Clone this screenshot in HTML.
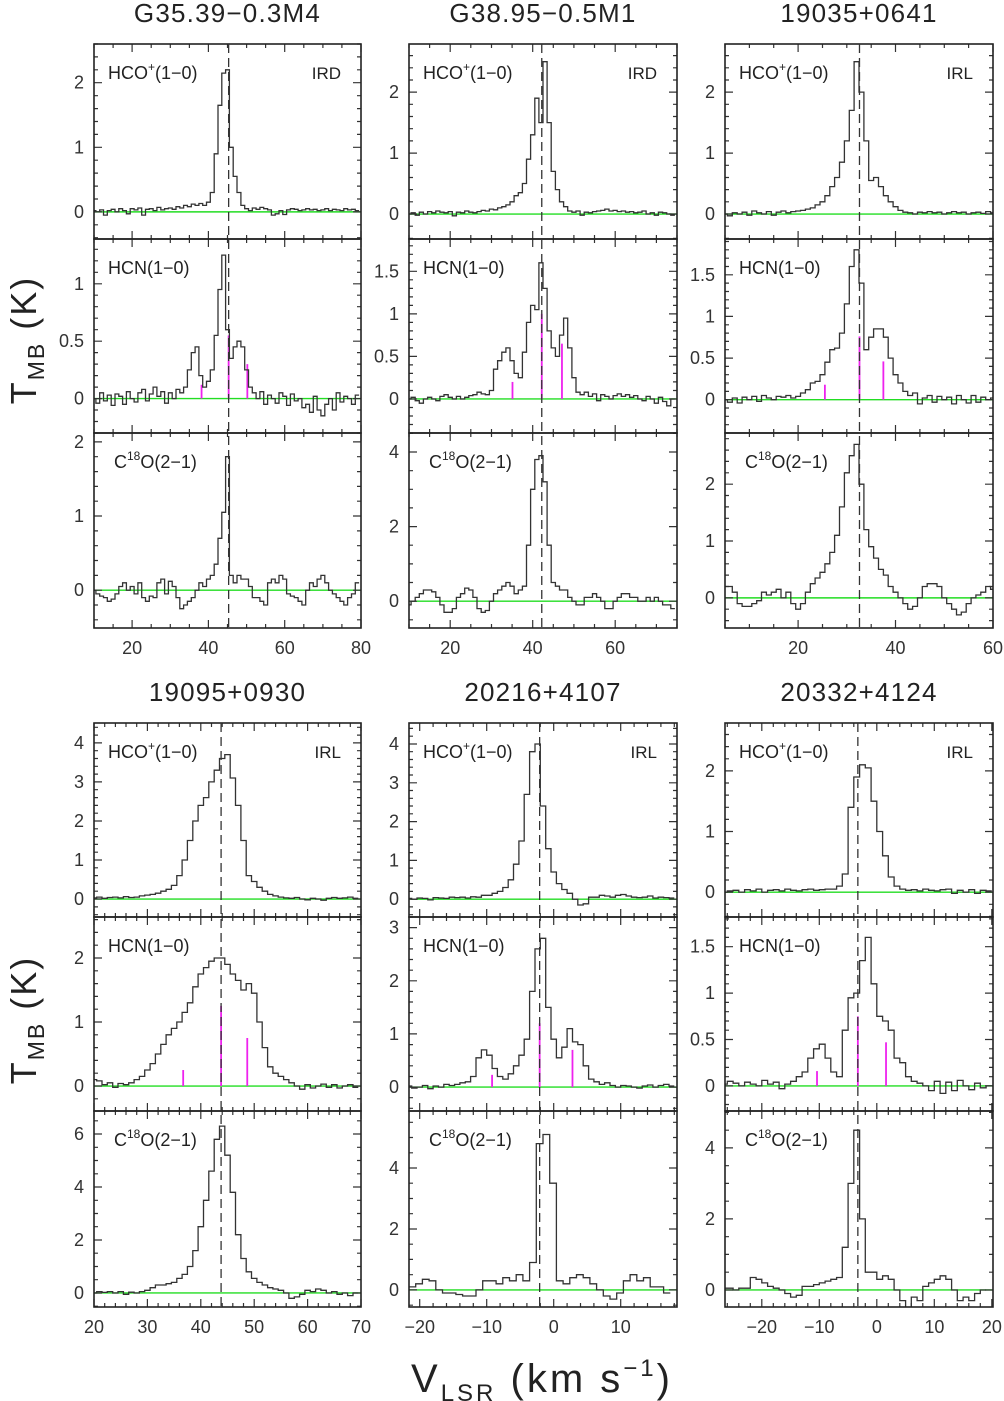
<!DOCTYPE html>
<html><head><meta charset="utf-8"><style>
html,body{margin:0;padding:0;background:#fff;}
svg{display:block;font-family:"Liberation Sans",sans-serif;}
</style></head><body>
<svg id="fig" width="1004" height="1401" viewBox="0 0 1004 1401" xmlns="http://www.w3.org/2000/svg">
<text transform="translate(36,340) rotate(-90)" text-anchor="middle" font-size="36" letter-spacing="2" fill="#222">T<tspan font-size="23" dy="8">MB</tspan><tspan dy="-8"> (K)</tspan></text>
<text transform="translate(36,1020) rotate(-90)" text-anchor="middle" font-size="36" letter-spacing="2" fill="#222">T<tspan font-size="23" dy="8">MB</tspan><tspan dy="-8"> (K)</tspan></text>
<text x="542" y="1392" text-anchor="middle" font-size="40" letter-spacing="3" fill="#222">V<tspan font-size="24" dy="9">LSR</tspan><tspan dy="-9">  (km  s</tspan><tspan font-size="24" dy="-16">−1</tspan><tspan dy="16">)</tspan></text>
</svg>
<script>
// ---- data ----
const sourceNames = ["G35.39−0.3M4","G38.95−0.5M1","19035+0641","19095+0930","20216+4107","20332+4124"];
const sourceTypes = ["IRD","IRD","IRL","IRL","IRL","IRL"];
const vsys = [45.3, 42.2, 32.6, 43.8, -2.1, -3.3];
const hfOffsets = [-7.1, 0, 4.9];
const hfHeights = [[0.12,0.55,0.3],[0.2,1.0,0.65],[0.18,0.76,0.46],[0.25,1.25,0.75],[0.23,1.2,0.7],[0.16,0.75,0.47]];
const hcoSpectra = [
 [0.02,0.0,0.03,-0.05,0.02,0.04,0.0,0.05,0.02,-0.03,0.05,0.03,0.06,-0.05,0.04,0.05,0.02,0.07,0.03,0.05,0.06,0.04,0.08,0.06,0.1,0.08,0.12,0.1,0.13,0.1,0.15,
  0.3,0.9,1.65,2.15,2.2,1.0,0.55,0.3,0.1,0.05,0.02,0.06,0.04,0.07,0.05,0.03,-0.05,-0.03,0.02,-0.04,0.03,0.05,0.04,0.02,0.03,0.05,0.03,0.04,0.02,0.03,0.05,0.02,0.04,0.03,0.02,0.05,0.03,0.04,0.02],
 [0.0,0.02,-0.02,0.03,0.0,0.04,0.02,0.05,0.03,0.02,0.04,-0.03,0.03,0.02,0.05,0.03,0.02,0.04,0.06,0.05,0.08,0.07,0.1,0.12,0.15,0.2,0.3,
  0.35,0.5,0.9,1.3,1.9,1.5,2.5,1.5,0.7,0.4,0.2,0.12,0.05,
  0.03,0.05,-0.02,0.03,0.02,0.04,0.05,0.06,0.08,0.05,0.06,0.04,0.05,0.03,0.04,0.02,0.03,0.05,0.0,0.02,-0.02,0.03,0.02,0.0,-0.02],
 [0.0,-0.03,0.02,0.0,0.03,-0.02,0.05,0.02,0.0,0.04,-0.02,0.03,0.05,0.02,0.04,0.05,0.06,
  0.08,0.1,0.15,0.2,0.3,0.45,0.6,0.85,1.2,1.7,2.5,2.0,1.2,0.55,0.6,0.45,0.3,0.2,0.12,0.06,
  0.03,0.02,0.0,0.03,0.02,0.04,0.02,0.03,0.0,0.02,0.04,0.02,0.03,0.0,0.02,0.03,0.01,0.04,0.02],
 [0.03,0.05,0.02,0.04,0.05,0.03,0.06,0.04,0.05,0.08,
  0.1,0.12,0.15,0.2,0.25,0.35,0.6,1.0,1.5,2.0,2.4,2.6,3.0,3.3,3.6,3.7,3.1,2.4,1.5,0.6,0.45,0.3,0.2,0.12,0.08,0.05,
  0.03,0.02,0.04,0.0,-0.02,0.02,0.0,-0.03,0.02,0.04,0.02,0.03,0.05,0.02],
 [0.02,0.0,0.03,0.02,-0.02,0.04,0.03,0.02,0.05,0.04,0.05,0.03,0.06,0.05,
  0.1,0.1,0.15,0.2,0.3,0.5,0.9,1.5,2.7,3.8,4.0,2.4,1.3,0.7,0.4,0.25,0.15,0.0,-0.15,-0.12,0.05,0.05,
  0.1,0.08,0.05,0.1,0.12,0.08,0.05,0.04,0.05,0.08,0.03,0.05,0.04,0.03],
 [0.0,0.02,0.03,0.0,0.04,0.02,0.05,0.0,0.03,0.04,0.02,0.05,0.03,0.02,0.04,0.05,0.03,0.04,0.05,
  0.05,0.1,0.3,1.4,1.9,2.1,2.05,1.5,1.0,0.6,0.25,0.1,
  0.05,0.03,0.04,0.02,0.05,0.03,0.02,0.04,0.05,-0.02,0.03,0.0,0.04,-0.02,0.03,0.02]
];
const hcnSpectra = [
 [0.0,-0.04,0.05,-0.02,0.03,-0.06,0.04,0.02,-0.05,0.06,0.0,-0.03,0.05,0.08,-0.02,0.04,0.1,0.02,0.06,-0.04,0.05,0.0,0.08,0.05,
  0.1,0.25,0.4,0.45,0.2,0.1,0.15,0.25,0.55,0.95,1.25,0.6,0.35,0.45,0.5,0.45,0.25,0.1,0.05,
  0.0,0.06,-0.05,0.03,0.0,-0.04,0.05,0.02,-0.06,0.04,-0.02,0.0,-0.08,-0.05,-0.12,0.02,-0.1,-0.15,-0.05,0.0,-0.1,0.05,-0.03,0.02,0.0,-0.05,0.03],
 [0.0,0.02,-0.02,-0.05,0.0,0.02,0.0,-0.02,0.03,0.05,0.02,0.0,0.03,0.0,0.02,0.04,0.05,0.08,0.06,0.05,
  0.1,0.35,0.45,0.55,0.6,0.45,0.3,0.25,0.55,0.9,1.1,1.05,1.6,1.3,0.8,0.6,0.5,0.75,0.95,0.6,0.25,0.08,
  0.05,0.08,0.03,0.06,-0.02,0.05,0.03,0.0,0.04,0.06,0.03,0.05,0.02,0.04,0.0,-0.02,0.03,0.0,-0.05,0.02,-0.03,-0.08,0.0],
 [0.0,-0.03,0.02,-0.04,0.03,0.0,0.04,-0.02,0.05,0.02,0.0,0.04,0.03,0.05,0.02,0.04,
  0.08,0.12,0.2,0.22,0.3,0.45,0.6,0.62,0.8,1.15,1.6,1.8,1.4,0.6,0.75,0.85,0.85,0.75,0.5,0.3,0.2,0.1,
  0.05,0.08,-0.05,0.02,0.05,-0.03,0.04,0.0,0.03,-0.05,0.05,0.0,-0.04,0.05,-0.03,0.03,0.0,0.02],
 [0.1,0.08,0.02,0.05,-0.02,0.04,0.02,
  0.05,0.1,0.15,0.25,0.35,0.5,0.65,0.8,0.9,1.0,1.15,1.3,1.55,1.75,1.85,1.95,2.0,2.0,1.9,1.75,1.65,1.5,1.6,1.45,1.0,0.6,0.3,0.2,0.15,0.1,0.05,
  0.0,-0.05,0.02,-0.03,0.0,0.03,-0.02,0.02,-0.03,0.0,0.02,-0.02],
 [0.02,-0.02,0.0,0.03,-0.03,0.02,0.0,0.05,0.03,0.05,0.08,0.1,
  0.2,0.55,0.7,0.6,0.35,0.2,0.15,0.25,0.4,0.6,0.9,1.8,2.6,2.8,1.5,0.9,0.55,0.75,1.1,0.85,0.8,0.4,0.15,0.1,
  0.05,0.08,0.03,0.0,0.03,0.02,0.0,-0.02,0.02,0.04,0.0,0.03,0.05,0.02],
 [0.02,0.05,0.03,0.0,0.04,0.02,0.0,0.06,0.02,0.04,-0.03,0.02,
  0.05,0.1,0.15,0.3,0.4,0.45,0.3,0.15,0.1,0.6,0.95,1.0,1.35,1.6,1.1,0.75,0.7,0.6,0.3,0.25,0.1,0.05,
  0.03,0.0,-0.05,0.05,-0.08,0.04,-0.05,0.06,0.0,-0.04,0.03,-0.02,0.0]
];
const c18oSpectra = [
 [0.0,-0.05,-0.08,-0.1,-0.15,-0.12,-0.05,0.05,0.1,0.0,0.05,-0.05,0.1,-0.1,-0.15,-0.08,-0.1,0.1,0.15,-0.05,0.12,0.05,-0.1,-0.25,-0.2,-0.15,-0.1,0.0,0.1,0.05,0.15,
  0.2,0.35,0.7,1.05,1.8,0.2,0.1,0.2,0.15,0.15,0.05,-0.1,-0.1,-0.15,-0.2,0.1,0.15,0.1,0.2,0.15,-0.05,-0.08,-0.1,-0.15,-0.2,0.0,0.1,0.05,0.15,0.2,0.1,0.0,-0.05,-0.1,-0.15,-0.2,-0.1,-0.05,0.1],
 [-0.1,0.0,0.1,0.2,0.3,0.3,0.25,0.1,-0.1,-0.3,-0.3,-0.2,0.1,0.2,0.35,0.3,0.1,-0.2,-0.3,-0.25,0.0,0.2,0.3,0.4,0.5,0.4,0.2,0.3,0.4,1.5,
  3.0,3.8,3.9,3.2,1.5,0.5,0.4,0.3,0.3,0.1,0.0,-0.1,-0.1,0.1,0.1,0.2,0.1,0.0,-0.2,-0.2,0.0,0.1,0.2,0.2,0.1,0.1,0.0,0.0,0.1,0.0,0.1,0.0,-0.1,-0.1,-0.2],
 [0.2,0.2,0.1,-0.1,-0.15,-0.15,-0.1,-0.05,0.1,0.05,0.1,0.15,0.0,0.1,-0.1,-0.2,-0.1,0.1,0.25,0.35,0.45,0.6,0.8,1.1,1.6,2.2,2.5,2.7,2.0,1.2,
  0.9,0.7,0.5,0.4,0.2,0.1,0.0,-0.1,-0.2,-0.15,0.0,0.2,0.25,0.25,0.2,0.0,-0.1,-0.2,-0.3,-0.25,-0.1,0.0,0.05,0.1,0.2,0.15],
 [0.0,0.05,0.02,0.05,0.0,0.05,-0.05,0.03,0.0,0.05,0.1,0.2,0.3,
  0.3,0.35,0.4,0.55,0.7,1.0,1.6,2.5,3.5,4.6,5.8,6.3,5.2,3.8,2.2,1.3,0.8,0.55,0.4,0.3,0.2,0.15,0.1,
  0.0,-0.2,-0.15,-0.05,0.1,0.05,0.15,0.1,0.0,0.05,-0.05,0.0,-0.1,0.0],
 [0.1,0.1,0.2,0.35,0.3,0.0,-0.1,-0.1,-0.15,-0.2,-0.2,0.0,0.3,0.3,0.2,0.4,0.3,0.5,0.3,0.9,4.8,5.1,3.5,0.3,0.2,0.4,0.5,0.4,0.2,0.0,-0.2,-0.3,-0.1,0.3,0.5,0.3,0.4,0.1,0.1,-0.1],
 [0.05,0.05,0.0,0.05,0.05,0.35,0.3,0.2,0.1,0.05,0.0,-0.1,-0.2,-0.15,0.1,0.1,0.15,0.2,0.25,0.3,0.35,1.2,3.0,4.5,2.0,0.5,0.5,0.3,0.4,0.3,0.0,-0.3,-0.5,-0.2,-0.3,0.1,0.2,0.3,0.4,0.3,0.0,-0.3,-0.2,-0.3,-0.1,0.0]
];
// ---- layout config ----
const colsX = [[94,361],[409,677],[725,993]];
const blocks = [[44,239,433,628],[723,917,1111,1307]];
const panelCfg = [
 {vr:[10,80],xmaj:20,xmin:5,xlab:[20,40,60,80],ch:[[10,1],[10,1],[10,1]],yr:[[-0.42,2.6],[-0.3,1.39],[-0.51,2.12]],ymaj:[1,0.5,1],ymin:[0.2,0.1,0.2]},
 {vr:[10,75],xmaj:20,xmin:5,xlab:[20,40,60],ch:[[10,1],[10,1],[10,1]],yr:[[-0.41,2.79],[-0.4,1.88],[-0.72,4.51]],ymaj:[1,0.5,2],ymin:[0.2,0.1,0.5]},
 {vr:[5,60],xmaj:20,xmin:5,xlab:[20,40,60],ch:[[5,1],[5,1],[5,1]],yr:[[-0.41,2.79],[-0.4,1.93],[-0.53,2.9]],ymaj:[1,0.5,1],ymin:[0.2,0.1,0.2]},
 {vr:[20,70],xmaj:10,xmin:2,xlab:[20,30,40,50,60,70],ch:[[20,1],[20,1],[20,1]],yr:[[-0.46,4.51],[-0.39,2.64],[-0.53,6.87]],ymaj:[1,1,2],ymin:[0.2,0.2,0.5]},
 {vr:[-21.6,18.4],xmaj:10,xmin:2,xlab:[-20,-10,0,10],ch:[[-21.6,0.8],[-21.6,0.8],[-22.1,1]],yr:[[-0.46,4.54],[-0.45,3.2],[-0.56,5.87]],ymaj:[1,1,2],ymin:[0.2,0.2,0.5]},
 {vr:[-26.4,20.2],xmaj:10,xmin:2,xlab:[-20,-10,0,10,20],ch:[[-26.5,1],[-26.5,1],[-26.5,1]],yr:[[-0.41,2.79],[-0.27,1.82],[-0.48,5.04]],ymaj:[1,0.5,2],ymin:[0.2,0.1,0.5]}
];
const NS="http://www.w3.org/2000/svg";
const svg=document.getElementById('fig');
function mk(tag,attrs,parent){const e=document.createElementNS(NS,tag);for(const k in attrs)e.setAttribute(k,attrs[k]);(parent||svg).appendChild(e);return e;}
function fmt(v){const s=(Math.round(v*100)/100).toString();return s.replace('-','−');}
const defs=mk('defs',{});
const specSets=[hcoSpectra,hcnSpectra,c18oSpectra];
const rowNames=['hco','hcn','c18o'];
for(let p=0;p<6;p++){
  const cfg=panelCfg[p];
  const [xl,xr]=colsX[p%3];
  const blk=blocks[Math.floor(p/3)];
  const g=mk('g',{});
  
  
  const xs=v=>xl+(v-cfg.vr[0])/(cfg.vr[1]-cfg.vr[0])*(xr-xl);
  const title=mk('text',{x:(xl+xr)/2,y:blk[0]-22,'text-anchor':'middle','font-size':'26','letter-spacing':'1.2',fill:'#222'},g);
  title.textContent=sourceNames[p];
  
  
  for(let r=0;r<3;r++){
    const yt=blk[r], yb=blk[r+1];
    const [ymn,ymx]=cfg.yr[r];
    const ys=v=>yb-(v-ymn)/(ymx-ymn)*(yb-yt);
    const pg=mk('g',{},g);
    
    
    const cid='clip'+p+'_'+r;
    const cp=mk('clipPath',{id:cid},defs);
    mk('rect',{x:xl,y:yt,width:xr-xl,height:yb-yt},cp);
    const bl=mk('line',{x1:xl,x2:xr,y1:ys(0),y2:ys(0),stroke:'#22dd22','stroke-width':1.4},pg);
    
    
    if(r===1){
      for(let k=0;k<3;k++){
        const hx=xs(vsys[p]+hfOffsets[k]);
        const hl=mk('line',{x1:hx,x2:hx,y1:ys(0),y2:ys(hfHeights[p][k]),stroke:'#ee22ee','stroke-width':1.8},pg);
        
        
      }
    }
    const data=specSets[r][p];
    const [v0,dv]=cfg.ch[r];
    let d='';
    for(let i=0;i<data.length;i++){
      const c=v0+i*dv, a=xs(c-dv/2), b=xs(c+dv/2), y=ys(data[i]);
      d+= (i===0?'M'+a.toFixed(1)+' '+y.toFixed(1):'V'+y.toFixed(1))+'H'+b.toFixed(1);
    }
    const sp=mk('path',{d:d,fill:'none',stroke:'#333','stroke-width':1.3,'clip-path':'url(#'+cid+')'},pg);
    
    
    let tk='';
    const st=Math.ceil(cfg.vr[0]/cfg.xmin-1e-6)*cfg.xmin;
    for(let v=st; v<=cfg.vr[1]+1e-6; v+=cfg.xmin){
      const isM=Math.abs(v/cfg.xmaj-Math.round(v/cfg.xmaj))<1e-6;
      const L=isM?8:4, x=xs(v).toFixed(1);
      tk+=`M${x} ${yt}v${L}M${x} ${yb}v${-L}`;
    }
    const yst=Math.ceil(ymn/cfg.ymin[r]-1e-6)*cfg.ymin[r];
    for(let v=yst; v<=ymx+1e-6; v+=cfg.ymin[r]){
      const isM=Math.abs(v/cfg.ymaj[r]-Math.round(v/cfg.ymaj[r]))<1e-6;
      const L=isM?8:4, y=ys(v).toFixed(1);
      tk+=`M${xl} ${y}h${L}M${xr} ${y}h${-L}`;
      if(isM){
        const t=mk('text',{x:xl-10,y:ys(v)+6,'text-anchor':'end','font-size':'18',fill:'#333'},pg);
        t.textContent=fmt(Math.round(v/cfg.ymaj[r])*cfg.ymaj[r]);
        
        
      }
    }
    const tp=mk('path',{d:tk,stroke:'#333','stroke-width':1.2,fill:'none'},pg);
    
    
    const fr=mk('rect',{x:xl,y:yt,width:xr-xl,height:yb-yt,fill:'none',stroke:'#222','stroke-width':1.6},pg);
    
    
    const lab=mk('text',{x:xl+14,y:yt+35,'font-size':'18',fill:'#222'},pg);
    if(r===0){lab.innerHTML='HCO<tspan font-size="12" dy="-8">+</tspan><tspan dy="8">(1−0)</tspan>';}
    else if(r===1){lab.textContent='HCN(1−0)';}
    else{lab.setAttribute('x',xl+20);lab.innerHTML='C<tspan font-size="12" dy="-8">18</tspan><tspan dy="8">O(2−1)</tspan>';}
    
    
    if(r===0){
      const ty=mk('text',{x:xr-20,y:yt+35,'text-anchor':'end','font-size':'17',fill:'#222'},pg);
      ty.textContent=sourceTypes[p];
      
      
    }
    if(r===2){
      cfg.xlab.forEach(v=>{
        const t=mk('text',{x:xs(v),y:yb+26,'text-anchor':'middle','font-size':'18',fill:'#333'},pg);
        t.textContent=fmt(v);
        
        
      });
    }
  }
  const dl=mk('line',{x1:xs(vsys[p]),x2:xs(vsys[p]),y1:blk[0],y2:blk[3],stroke:'#333','stroke-width':1.3,'stroke-dasharray':'9,5'},g);
  
  
}
</script>
</body></html>
